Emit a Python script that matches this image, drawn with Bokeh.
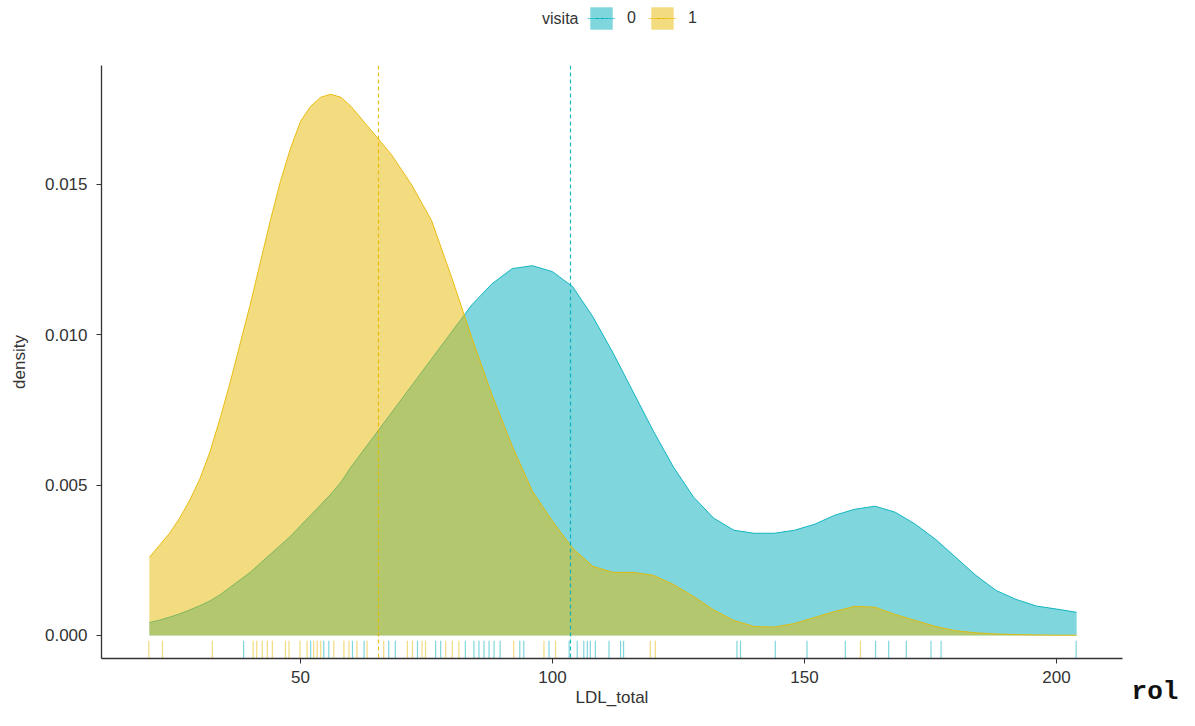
from bokeh.plotting import figure
from bokeh.layouts import column, row
from bokeh.models import (Range1d, FixedTicker, PrintfTickFormatter, Legend, LegendItem,
                          Label, LinearAxis)
from bokeh.embed import file_html
from bokeh.resources import INLINE
import math

# ---------------- data ----------------
groups = ["0", "1"]
group_colors = ["#00AFBB", "#E7B800"]

ldl_grid = [20, 22, 24, 26, 28, 30, 32, 34, 36, 38, 40, 42, 44, 46, 48, 50,
            52, 54, 56, 58, 60, 64, 68, 72, 76, 80, 84, 88, 92, 96, 100, 104,
            108, 112, 116, 120, 124, 128, 132, 136, 140, 144, 148, 152, 156,
            160, 164, 168, 172, 176, 180, 184, 188, 192, 196, 200, 204]

density_0 = [0.00043, 0.00051, 0.00061, 0.00072, 0.00085, 0.00099, 0.00115,
             0.00135, 0.0016, 0.00185, 0.0021, 0.0024, 0.0027, 0.0030, 0.0033,
             0.00365, 0.0040, 0.00435, 0.0047, 0.0051, 0.0056,
             0.0065, 0.0074, 0.0083, 0.0092, 0.0101, 0.0110, 0.0117, 0.0122,
             0.0123, 0.0121, 0.0116, 0.0106, 0.0094, 0.0081, 0.0068, 0.0056,
             0.0046, 0.0039, 0.0035, 0.0034, 0.0034, 0.0035, 0.0037, 0.0040,
             0.0042, 0.0043, 0.0041, 0.0037, 0.0032, 0.0026, 0.0020, 0.0015,
             0.0012, 0.00098, 0.00088, 0.00077]

density_1 = [0.0026, 0.0030, 0.0034, 0.0039, 0.0045, 0.0052, 0.0061, 0.0072,
             0.0084, 0.0097, 0.0110, 0.0124, 0.0138, 0.0151, 0.0162, 0.0171,
             0.0176, 0.0179, 0.0180, 0.0179, 0.0176,
             0.0168, 0.0160, 0.0150, 0.0138, 0.0119, 0.0099, 0.0080, 0.0063,
             0.0048, 0.0038, 0.0029, 0.0023, 0.0021, 0.0021, 0.0020, 0.0017,
             0.0013, 0.00085, 0.0005, 0.0003, 0.00028, 0.0004, 0.0006, 0.0008,
             0.00097, 0.00094, 0.0007, 0.0005, 0.0003, 0.00016, 0.00009,
             0.00005, 0.00003, 0.00002, 0.00001, 0.00001]

mean_0 = 103.6
mean_1 = 65.5

rug_0 = [38.7, 52.0, 54.6, 55.6, 60.3, 62.6, 67.5, 68.8, 73.2, 76.8, 77.8,
         82.7, 84.4, 85.4, 86.4, 87.4, 88.4, 89.6, 93.5, 94.3, 99.3, 103.3,
         104.9, 106.2, 106.9, 107.5, 108.5, 111.2, 113.5, 114.1, 136.6, 137.3,
         144.2, 150.5, 158.1, 164.1, 166.7, 170.2, 175.1, 177.1, 203.9]
rug_1 = [19.9, 22.6, 32.5, 40.6, 41.3, 42.4, 43.4, 44.4, 47.0, 47.7, 49.9,
         51.3, 52.6, 53.3, 54.0, 56.6, 58.6, 59.6, 61.2, 63.2, 66.5, 71.2,
         72.2, 74.1, 74.8, 78.8, 80.1, 81.4, 92.3, 98.3, 100.6, 119.4, 120.4,
         161.1]

x_ticks = [50, 100, 150, 200]
y_ticks = [0.0, 0.005, 0.010, 0.015]

# ---------------- styling ----------------
FONT = "Liberation Sans"
TXT = "#333333"
X_LO, X_HI = 10.5, 213.1
Y_LO, Y_HI = -0.000765, 0.018956
LEG_H = 61
TOTAL_W, TOTAL_H = 1179, 710
MAIN_W = 1130
MAIN_H = TOTAL_H - LEG_H
DASH = "4 3"

dens = [density_0, density_1]
means = [mean_0, mean_1]
rugs = [rug_0, rug_1]

# ---------------- main panel ----------------
p = figure(width=MAIN_W, height=MAIN_H, output_backend="svg", toolbar_location=None,
           x_range=Range1d(X_LO, X_HI), y_range=Range1d(Y_LO, Y_HI),
           min_border_left=101, min_border_right=8, min_border_top=4,
           min_border_bottom=52)
p.outline_line_color = None
p.xgrid.visible = False
p.ygrid.visible = False

rug_len = 0.03 * (Y_HI - Y_LO)

for col, d in zip(group_colors, dens):
    p.varea(x=ldl_grid, y1=[0] * len(ldl_grid), y2=d, fill_color=col, fill_alpha=0.5)
    p.line(ldl_grid, d, line_color=col, line_width=1, line_alpha=0.9)

for col, m in zip(group_colors, means):
    p.vspan(x=[m], line_color=col, line_dash=DASH, line_width=1.2, line_alpha=0.9)

for col, r in zip(group_colors, rugs):
    p.segment(x0=r, y0=[Y_LO] * len(r), x1=r, y1=[Y_LO + rug_len] * len(r),
              line_color=col, line_alpha=0.5, line_width=1.2)

p.xaxis.ticker = FixedTicker(ticks=x_ticks)
p.yaxis.ticker = FixedTicker(ticks=y_ticks)
p.yaxis.formatter = PrintfTickFormatter(format="%.3f")
for ax in (p.xaxis[0], p.yaxis[0]):
    ax.minor_tick_line_color = None
    ax.major_tick_in = 0
    ax.major_tick_out = 5
    ax.major_tick_line_color = TXT
    ax.axis_line_color = TXT
    ax.axis_line_width = 1.3
    ax.major_label_text_font = FONT
    ax.major_label_text_font_size = "17px"
    ax.major_label_text_color = TXT
    ax.axis_label_text_font = FONT
    ax.axis_label_text_font_size = "17px"
    ax.axis_label_text_font_style = "normal"
    ax.axis_label_text_color = TXT
p.xaxis.major_label_standoff = 7
p.xaxis.axis_label_standoff = 2
p.yaxis.major_label_standoff = 9
p.yaxis.axis_label_standoff = 13
p.xaxis.axis_label = "LDL_total"
p.yaxis.axis_label = "density"

# ---------------- legend strip (top) ----------------
lf = figure(width=TOTAL_W, height=LEG_H, output_backend="svg", toolbar_location=None,
            x_range=Range1d(0, TOTAL_W), y_range=Range1d(0, LEG_H),
            x_axis_location=None, y_axis_location=None, min_border=0)
lf.outline_line_color = None
lf.xgrid.visible = False
lf.ygrid.visible = False
# the legend's renderers hold the real series but live on a range far off-view
lf.extra_x_ranges = {"off": Range1d(1000, 1001)}
items = []
for g, col, d, m, r in zip(groups, group_colors, dens, means, rugs):
    a = lf.varea(x=ldl_grid, y1=[0] * len(ldl_grid), y2=d, fill_color=col,
                 fill_alpha=0.5, x_range_name="off")
    s = lf.segment(x0=r, y0=[0] * len(r), x1=r, y1=[1] * len(r), line_color=col,
                   line_alpha=0.6, line_width=1, x_range_name="off")
    v = lf.scatter(x=[m], y=[0], marker="dash", angle=math.pi / 2, size=28,
                   line_color=col, line_dash="3 2", line_width=1.2,
                   x_range_name="off")
    items.append(LegendItem(label=g, renderers=[a, s, v]))
legend = Legend(items=items, orientation="horizontal",
                location=(587, 29),
                glyph_width=28, glyph_height=28, label_standoff=12, spacing=12,
                label_width=0, padding=0, margin=0, border_line_color=None,
                background_fill_alpha=0,
                label_text_font=FONT, label_text_font_size="16px",
                label_text_color=TXT)
lf.add_layout(legend)
lf.add_layout(Label(x=578, y=LEG_H - 18, text="visita", text_align="right",
                    text_baseline="middle", text_font=FONT, text_font_size="16px",
                    text_color=TXT))

# ---------------- stray caption strip (bottom right) ----------------
rf = figure(width=TOTAL_W - MAIN_W, height=MAIN_H, output_backend="svg",
            toolbar_location=None, x_range=Range1d(0, 1), y_range=Range1d(0, 1),
            x_axis_location=None, y_axis_location=None, min_border=0)
rf.outline_line_color = None
rf.xgrid.visible = False
rf.ygrid.visible = False
cap = LinearAxis(ticker=FixedTicker(ticks=[]), axis_line_color=None,
                 major_tick_line_color=None, minor_tick_line_color=None,
                 major_tick_out=0, major_tick_in=0, major_label_standoff=0,
                 axis_label="rol", axis_label_text_font="Liberation Mono",
                 axis_label_text_font_style="bold", axis_label_text_font_size="26px",
                 axis_label_text_color="#111111", axis_label_standoff=18)
rf.add_layout(cap, "below")

layout = column(lf, row(p, rf, spacing=0), spacing=0)

open("out.html", "w").write(file_html(layout, INLINE))
